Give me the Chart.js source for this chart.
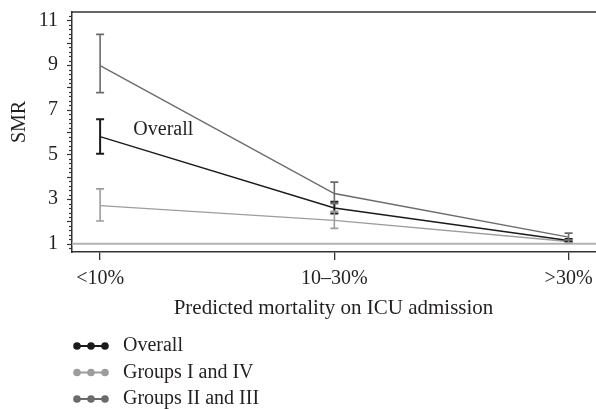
<!DOCTYPE html>
<html>
<head>
<meta charset="utf-8">
<script src="https://cdn.jsdelivr.net/npm/chart.js@4.4.1/dist/chart.umd.min.js"></script>
<style>
  html, body { margin: 0; padding: 0; background: #fff; }
  #wrap { width: 596px; height: 409px; position: relative; }
</style>
</head>
<body>
<div id="wrap"><canvas id="c"></canvas></div>
<script>
// Standardised mortality ratio by predicted ICU mortality band
const categories = ['<10%', '10–30%', '>30%'];

const overall      = [5.80, 2.60, 1.15];
const overallLow   = [5.03, 2.36, 1.10];
const overallHigh  = [6.58, 2.88, 1.21];

const groupsIandIV      = [2.71, 2.05, 1.10];
const groupsIandIVLow   = [2.02, 1.69, 1.04];
const groupsIandIVHigh  = [3.46, 2.45, 1.17];

const groupsIIandIII     = [8.98, 3.25, 1.30];
const groupsIIandIIILow  = [7.77, 2.80, 1.16];
const groupsIIandIIIHigh = [10.38, 3.76, 1.48];

const yTickLabels = [1, 3, 5, 7, 9, 11];
const referenceSMR = 1;

const SERIF = '"Liberation Serif", "DejaVu Serif", serif';
const TEXT = '#231f20';
const AXIS = '#333333';

const series = [
  { label: 'Overall',            values: overall,        low: overallLow,        high: overallHigh,        color: '#1b1b1b', width: 1.5, errWidth: 2.0 },
  { label: 'Groups I and IV',    values: groupsIandIV,   low: groupsIandIVLow,   high: groupsIandIVHigh,   color: '#9d9d9d', width: 1.4, errWidth: 1.6 },
  { label: 'Groups II and III',  values: groupsIIandIII, low: groupsIIandIIILow, high: groupsIIandIIIHigh, color: '#6b6b6b', width: 1.4, errWidth: 1.6 }
];

const noPad = s => { s.paddingTop = 0; s.paddingBottom = 0; s.paddingLeft = 0; s.paddingRight = 0; };

const decor = {
  id: 'decor',
  beforeDatasetsDraw(chart) {
    const { ctx, chartArea: a, scales: { y } } = chart;
    ctx.save();
    // reference line at SMR = 1
    const yr = y.getPixelForValue(referenceSMR);
    ctx.strokeStyle = '#b3b3b3';
    ctx.lineWidth = 2;
    ctx.beginPath(); ctx.moveTo(a.left, yr); ctx.lineTo(a.right, yr); ctx.stroke();
    // top frame line
    ctx.strokeStyle = AXIS;
    ctx.lineWidth = 1.5;
    ctx.beginPath(); ctx.moveTo(a.left, a.top); ctx.lineTo(a.right, a.top); ctx.stroke();
    ctx.restore();
  },
  afterDatasetsDraw(chart) {
    const { ctx, scales: { x, y } } = chart;
    ctx.save();
    // confidence interval whiskers
    series.forEach(s => {
      ctx.strokeStyle = s.color;
      ctx.lineWidth = s.errWidth;
      s.values.forEach((v, i) => {
        const px = x.getPixelForValue(i);
        const y0 = y.getPixelForValue(s.low[i]);
        const y1 = y.getPixelForValue(s.high[i]);
        ctx.beginPath();
        ctx.moveTo(px, y0); ctx.lineTo(px, y1);
        ctx.moveTo(px - 4, y0); ctx.lineTo(px + 4, y0);
        ctx.moveTo(px - 4, y1); ctx.lineTo(px + 4, y1);
        ctx.stroke();
      });
    });
    ctx.restore();
  },
  afterDraw(chart) {
    const { ctx, chartArea: a, scales: { x, y } } = chart;
    ctx.save();
    // y-axis tick marks: integers longer, fifths short
    ctx.strokeStyle = AXIS;
    ctx.lineWidth = 1.2;
    for (let k = Math.ceil(y.min * 5); k <= Math.floor(y.max * 5); k++) {
      const py = Math.round(y.getPixelForValue(k / 5)) + 0.5;
      const len = (k % 5 === 0) ? 5 : 3;
      ctx.beginPath(); ctx.moveTo(a.left - len, py); ctx.lineTo(a.left, py); ctx.stroke();
    }

    ctx.fillStyle = TEXT;
    // series annotation
    ctx.font = '20px ' + SERIF;
    ctx.textAlign = 'center';
    ctx.textBaseline = 'middle';
    ctx.fillText('Overall', x.getPixelForValue(0.27), y.getPixelForValue(6.1));

    // axis titles
    ctx.font = '21px ' + SERIF;
    ctx.textBaseline = 'alphabetic';
    ctx.fillText('Predicted mortality on ICU admission', 333.5, 314);
    ctx.save();
    ctx.translate(25, 122);
    ctx.rotate(-Math.PI / 2);
    ctx.font = '20px ' + SERIF;
    ctx.textBaseline = 'alphabetic';
    ctx.fillText('SMR', 0, 0);
    ctx.restore();

    // legend
    const rows = [346, 372.5, 399];
    series.forEach((s, i) => {
      const ry = rows[i];
      ctx.strokeStyle = s.color;
      ctx.fillStyle = s.color;
      ctx.lineWidth = 2;
      ctx.beginPath(); ctx.moveTo(77, ry); ctx.lineTo(105, ry); ctx.stroke();
      [77, 91, 105].forEach(cx => {
        ctx.beginPath(); ctx.arc(cx, ry, 3.8, 0, Math.PI * 2); ctx.fill();
      });
      ctx.fillStyle = TEXT;
      ctx.font = '20px ' + SERIF;
      ctx.textAlign = 'left';
      ctx.textBaseline = 'middle';
      ctx.fillText(s.label, 123, ry);
    });
    ctx.restore();
  }
};

new Chart(document.getElementById('c'), {
  type: 'line',
  data: {
    datasets: series.map(s => ({
      label: s.label,
      data: s.values.map((v, i) => ({ x: i, y: v })),
      borderColor: s.color,
      borderWidth: s.width,
      pointRadius: 0,
      tension: 0,
      fill: false
    }))
  },
  options: {
    responsive: true,
    maintainAspectRatio: false,
    animation: false,
    devicePixelRatio: 1,
    layout: { padding: { top: 12, right: 0, bottom: 0, left: 0 } },
    plugins: { legend: { display: false }, tooltip: { enabled: false } },
    scales: {
      x: {
        type: 'linear',
        min: -0.12,
        max: 2.117,
        afterBuildTicks: s => { s.ticks = categories.map((c, i) => ({ value: i })); },
        afterFit: s => { s.height = 157; noPad(s); },
        ticks: {
          callback: v => categories[v],
          color: TEXT,
          font: { family: SERIF, size: 20 },
          padding: 7,
          maxRotation: 0,
          autoSkip: false
        },
        grid: { display: true, drawOnChartArea: false, drawTicks: true, tickLength: 8, color: AXIS, lineWidth: 1.3 },
        border: { display: true, color: AXIS, width: 1.5 }
      },
      y: {
        min: 0.633,
        max: 11.38,
        afterBuildTicks: s => { s.ticks = yTickLabels.map(v => ({ value: v })); },
        afterFit: s => { s.width = 72; noPad(s); },
        ticks: {
          color: TEXT,
          font: { family: SERIF, size: 20 },
          padding: 14
        },
        grid: { display: false, drawTicks: false },
        border: { display: true, color: AXIS, width: 1.5 }
      }
    }
  },
  plugins: [decor]
});
</script>
</body>
</html>
